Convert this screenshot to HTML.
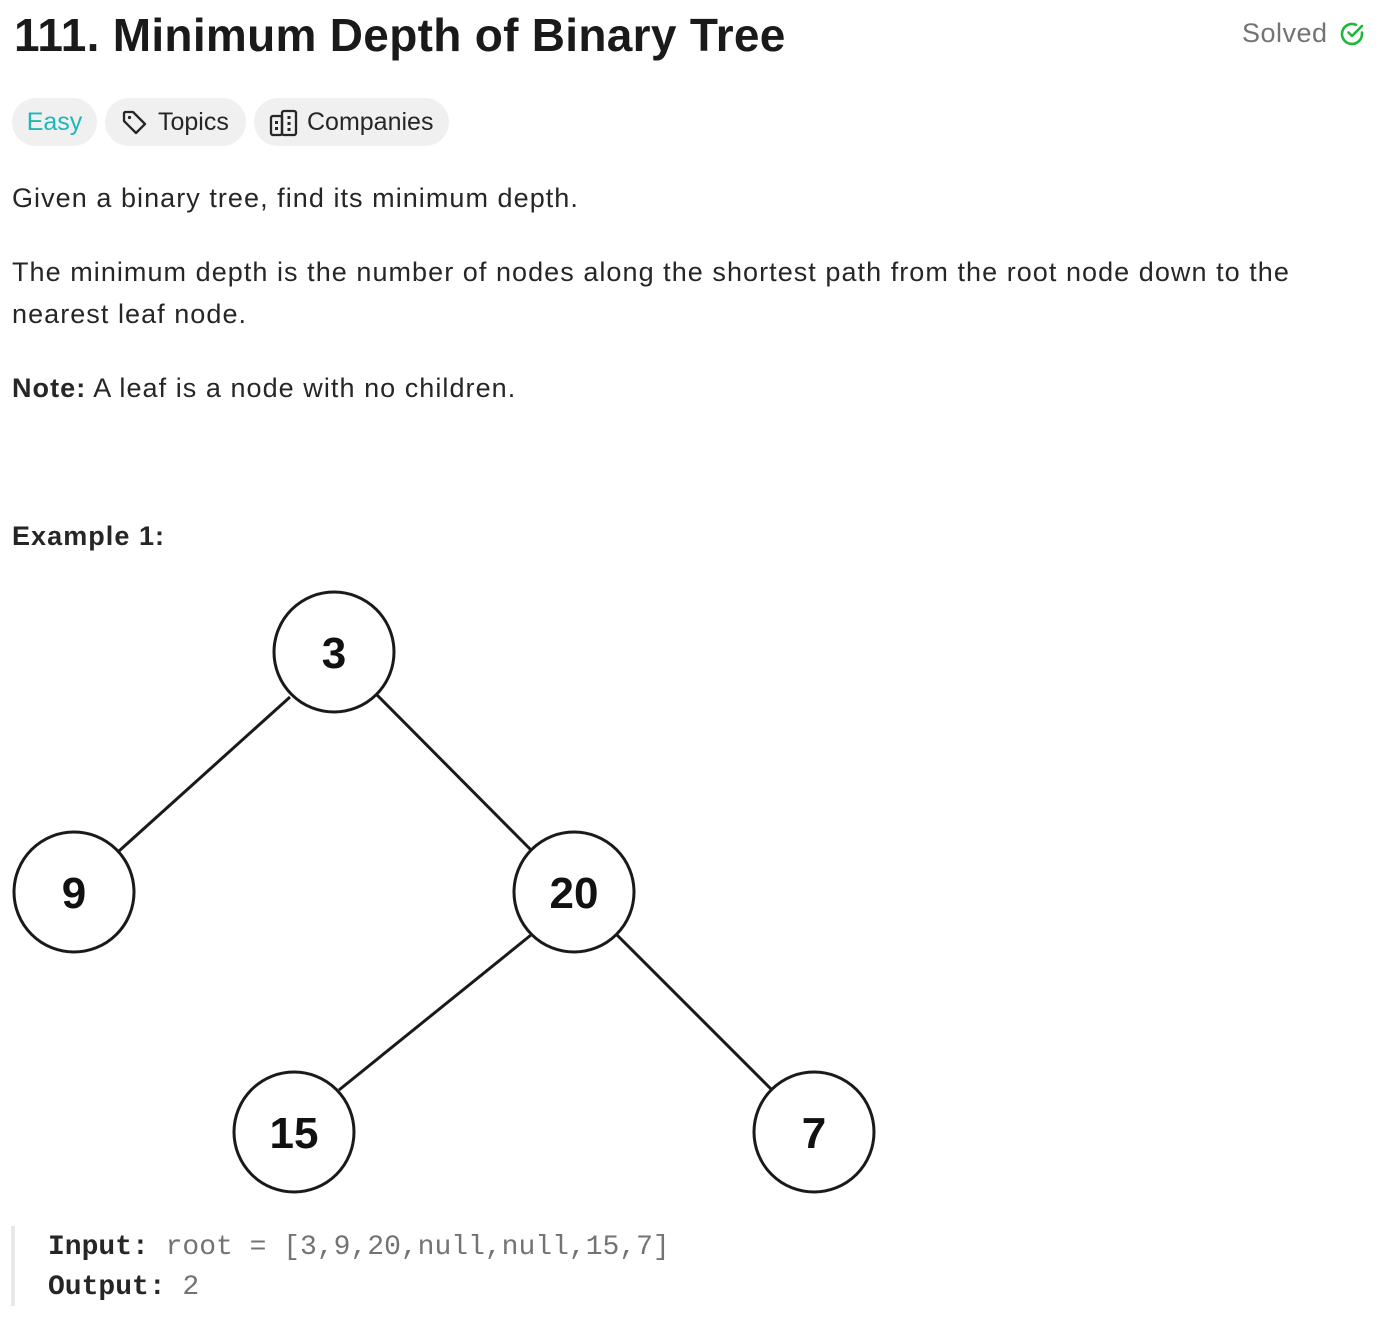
<!DOCTYPE html>
<html><head><meta charset="utf-8"><style>
body{margin:0;width:1378px;height:1332px;background:#fff;font-family:"Liberation Sans",sans-serif;color:#262626;position:relative;overflow:hidden}
.a{position:absolute;white-space:nowrap}
.t{font-size:27px;letter-spacing:1.05px}
.pill{position:absolute;top:98px;height:48px;border-radius:24px;background:#f0f0f0;font-size:25px;line-height:48px;color:#262626}
</style></head><body>
<div class="a" style="left:14px;top:8px;font-size:46px;font-weight:bold;color:#1a1a1a;letter-spacing:0.3px">111. Minimum Depth of Binary Tree</div>
<div class="a" style="left:1242px;top:18px;font-size:27px;color:#737373;letter-spacing:0.5px">Solved</div>
<svg class="a" style="left:1338px;top:20px" width="28" height="28" viewBox="0 0 28 28"><path d="M24 12.5V14a10 10 0 1 1-6-9.2" fill="none" stroke="#1cb83a" stroke-width="2.6" stroke-linecap="round"/><path d="M24 6L14 16l-3.5-3.5" fill="none" stroke="#1cb83a" stroke-width="2.6" stroke-linecap="round" stroke-linejoin="round"/></svg>
<div class="pill" style="left:12px;width:85px;color:#1cb8b8;text-align:center">Easy</div>
<div class="pill" style="left:105px;width:141px"><svg class="a" style="left:16px;top:11px" width="28" height="28" viewBox="0 0 28 28"><path d="M3 4v8l12 12 9-9L12 3H4z" fill="none" stroke="#262626" stroke-width="2.3" stroke-linejoin="round"/><circle cx="8.5" cy="8.5" r="1.6" fill="#262626"/></svg><span class="a" style="left:53px">Topics</span></div>
<div class="pill" style="left:254px;width:195px"><svg class="a" style="left:15px;top:10px" width="30" height="30" viewBox="0 0 30 30"><rect x="2" y="8" width="11" height="19" rx="2" fill="none" stroke="#262626" stroke-width="2.3"/><rect x="13" y="3" width="14" height="24" rx="2" fill="none" stroke="#262626" stroke-width="2.3"/><g fill="#262626"><rect x="6" y="13" width="3" height="3"/><rect x="6" y="19" width="3" height="3"/><rect x="18.5" y="8" width="3" height="3"/><rect x="18.5" y="14" width="3" height="3"/><rect x="18.5" y="20" width="3" height="3"/></g></svg><span class="a" style="left:53px">Companies</span></div>
<div class="a t" style="left:12px;top:183px">Given a binary tree, find its minimum depth.</div>
<div class="a t" style="left:12px;top:257px">The minimum depth is the number of nodes along the shortest path from the root node down to the</div>
<div class="a t" style="left:12px;top:299px">nearest leaf node.</div>
<div class="a t" style="left:12px;top:373px"><b>Note:</b> A leaf is a node with no children.</div>
<div class="a t" style="left:12px;top:521px;font-weight:bold">Example 1:</div>
<svg class="a" style="left:0;top:580px" width="900" height="620" viewBox="0 580 900 620">
<g stroke="#1a1a1a" stroke-width="3" fill="none">
<line x1="290" y1="697" x2="119" y2="851"/>
<line x1="377" y1="695" x2="532" y2="851"/>
<line x1="531" y1="935" x2="339" y2="1090"/>
<line x1="617" y1="935" x2="772" y2="1090"/>
<circle cx="334" cy="652" r="60"/><circle cx="74" cy="892" r="60"/><circle cx="574" cy="892" r="60"/><circle cx="294" cy="1132" r="60"/><circle cx="814" cy="1132" r="60"/>
</g>
<g font-family="Liberation Sans,sans-serif" font-weight="bold" font-size="44" text-anchor="middle" fill="#111">
<text x="334" y="668">3</text><text x="74" y="908">9</text><text x="574" y="908">20</text><text x="294" y="1148">15</text><text x="814" y="1148">7</text>
</g></svg>
<div class="a" style="left:11px;top:1226px;width:4px;height:80px;background:#e8e8e8"></div>
<div class="a" style="left:48px;top:1228px;font-family:'Liberation Mono',monospace;font-size:28px;line-height:40px;color:#737373"><b style="color:#262626">Input:</b> root = [3,9,20,null,null,15,7]<br><b style="color:#262626">Output:</b> 2</div>
</body></html>
